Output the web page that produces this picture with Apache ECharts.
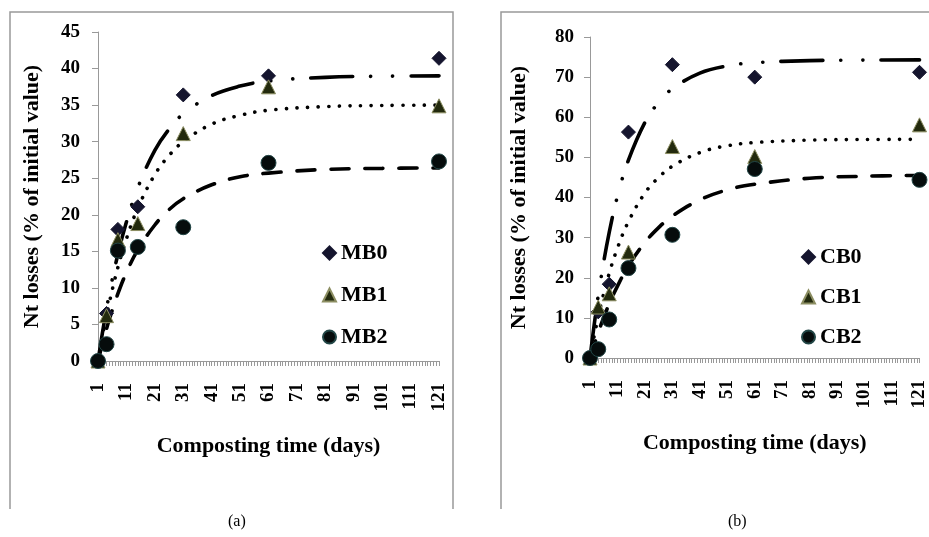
<!DOCTYPE html>
<html>
<head>
<meta charset="utf-8">
<script src="https://cdn.jsdelivr.net/npm/echarts@6/dist/echarts.min.js"></script>
<style>
  html, body { margin: 0; padding: 0; background: #fff; }
  #chart { width: 929px; height: 537px; }
</style>
</head>
<body>
<div id="chart"></div>
<script>
// sampling days (x positions on the 1..121 axis)
var days = [1, 4, 8, 15, 31, 61, 121];

// panel (a)
var mb0 = [0, 6.5, 18.0, 21.1, 36.4, 39.0, 41.4];
var mb1 = [0, 6.2, 16.6, 18.8, 31.1, 37.5, 34.9];
var mb2 = [0, 2.3, 15.1, 15.6, 18.3, 27.1, 27.3];

// panel (b)
var cb0 = [0, 11.5, 18.4, 56.3, 73.1, 70.0, 71.2];
var cb1 = [0, 12.7, 16.0, 26.4, 52.7, 50.2, 58.1];
var cb2 = [0, 2.2, 9.6, 22.4, 30.7, 47.1, 44.4];

// trend curves
var fitDays = [1, 3, 5, 8, 11, 15, 21, 26, 31, 41, 51, 61, 81, 101, 121];
var mb0Fit = [0, 4.9, 9.2, 14.6, 19.0, 23.7, 28.8, 31.7, 33.8, 36.3, 37.6, 38.3, 38.8, 38.95, 39.0];
var mb1Fit = [0, 4.3, 8.0, 12.8, 16.7, 20.9, 25.5, 28.1, 30.0, 32.4, 33.6, 34.3, 34.8, 34.95, 35.0];
var mb2Fit = [0, 3.0, 5.7, 9.2, 12.1, 15.2, 18.6, 20.7, 22.2, 24.1, 25.2, 25.7, 26.2, 26.35, 26.4];
var cb0Fit = [0, 10.7, 19.9, 31.3, 40.3, 49.3, 58.7, 63.7, 67.1, 71.0, 72.8, 73.6, 74.1, 74.25, 74.3];
var cb1Fit = [0, 7.1, 13.3, 21.1, 27.4, 34.0, 41.1, 45.0, 47.8, 51.2, 52.9, 53.7, 54.3, 54.45, 54.5];
var cb2Fit = [0, 4.3, 8.3, 13.5, 17.9, 23.0, 28.8, 32.5, 35.4, 39.4, 41.9, 43.3, 44.8, 45.3, 45.5];

var xTitle = 'Composting time (days)';
var yTitle = 'Nt losses (% of initial value)';

var font = 'Liberation Serif';
var pair = function (xs, ys) { return xs.map(function (x, i) { return [x, ys[i]]; }); };

var dashDotDot = [42, 18, 0.1, 22, 0.1, 18];
var dotted = [0.1, 10.5];
var dashed = [18, 16];

function xAxis(grid) {
  return {
    type: 'value', gridIndex: grid, min: 1, max: 121, interval: 10,
    name: xTitle, nameLocation: 'middle', nameGap: 74,
    nameTextStyle: { fontFamily: font, fontWeight: 'bold', fontSize: 22, color: '#000' },
    axisLine: { lineStyle: { color: '#999', width: 1 } },
    axisTick: { show: true, length: 5, lineStyle: { color: '#999' } },
    minorTick: { show: true, splitNumber: 10, length: 5, lineStyle: { color: '#999' } },
    splitLine: { show: false },
    axisLabel: { rotate: 90, margin: 22, fontFamily: font, fontWeight: 'bold', fontSize: 19, color: '#000' }
  };
}
function yAxis(grid, max, step, margin, gap) {
  return {
    type: 'value', gridIndex: grid, min: 0, max: max, interval: step,
    name: yTitle, nameLocation: 'middle', nameGap: gap,
    nameTextStyle: { fontFamily: font, fontWeight: 'bold', fontSize: 22, color: '#000' },
    axisLine: { show: true, lineStyle: { color: '#999', width: 1 } },
    axisTick: { show: true, length: 6, lineStyle: { color: '#999' } },
    splitLine: { show: false },
    axisLabel: { margin: margin, fontFamily: font, fontWeight: 'bold', fontSize: 19, color: '#000' }
  };
}
function fit(name, grid, data, type) {
  return {
    name: name, type: 'line', xAxisIndex: grid, yAxisIndex: grid, data: data,
    smooth: 0.4, showSymbol: false, silent: true, z: 2,
    lineStyle: { color: '#000', width: 3.6, type: type, cap: 'round' }
  };
}
function pts(name, grid, data, symbol, size, fill, border) {
  return {
    name: name, type: 'scatter', xAxisIndex: grid, yAxisIndex: grid, data: data,
    symbol: symbol, symbolSize: size, z: 3,
    itemStyle: { color: fill, borderColor: border, borderWidth: 1, opacity: 1 }
  };
}
function legend(names, left, top, gap) {
  return {
    data: names, orient: 'vertical', left: left, top: top, itemGap: gap,
    itemWidth: 13, itemHeight: 13, itemTextGap: 3,
    textStyle: { fontFamily: font, fontWeight: 'bold', fontSize: 22, color: '#000', lineHeight: 24 }
  };
}

var dom = document.getElementById('chart');
var myChart = echarts.init(dom, null, { renderer: 'canvas' });

var option = {
  animation: false,
  backgroundColor: '#fff',
  grid: [
    { left: 98, top: 32, width: 341, height: 329 },
    { left: 590, top: 37, width: 335, height: 321 }
  ],
  xAxis: [xAxis(0), xAxis(1)],
  yAxis: [yAxis(0, 45, 5, 18, 55), yAxis(1, 80, 10, 16, 60)],
  legend: [
    legend(['MB0', 'MB1', 'MB2'], 317, 236, 18),
    legend(['CB0', 'CB1', 'CB2'], 796, 240, 16)
  ],
  graphic: [
    { type: 'polyline', shape: { points: [[10, 509], [10, 12], [453, 12], [453, 509]] },
      style: { fill: null, stroke: '#999', lineWidth: 1.5 } },
    { type: 'polyline', shape: { points: [[501, 509], [501, 12], [940, 12]] },
      style: { fill: null, stroke: '#999', lineWidth: 1.5 } },
    { type: 'text', left: 228, top: 514, style: { text: '(a)', font: '16px "Liberation Serif"', fill: '#000' } },
    { type: 'text', left: 728, top: 514, style: { text: '(b)', font: '16px "Liberation Serif"', fill: '#000' } }
  ],
  series: [
    fit('MB0 fit', 0, pair(fitDays, mb0Fit), dashDotDot),
    fit('MB1 fit', 0, pair(fitDays, mb1Fit), dotted),
    fit('MB2 fit', 0, pair(fitDays, mb2Fit), dashed),
    fit('CB0 fit', 1, pair(fitDays, cb0Fit), dashDotDot),
    fit('CB1 fit', 1, pair(fitDays, cb1Fit), dotted),
    fit('CB2 fit', 1, pair(fitDays, cb2Fit), dashed),
    pts('MB0', 0, pair(days, mb0), 'diamond', 14, '#15152e', '#15152e'),
    pts('MB1', 0, pair(days, mb1), 'triangle', 14, '#232a0e', '#8c8e62'),
    pts('MB2', 0, pair(days, mb2), 'circle', 15, '#060c0c', '#224646'),
    pts('CB0', 1, pair(days, cb0), 'diamond', 14, '#15152e', '#15152e'),
    pts('CB1', 1, pair(days, cb1), 'triangle', 14, '#232a0e', '#8c8e62'),
    pts('CB2', 1, pair(days, cb2), 'circle', 15, '#060c0c', '#224646')
  ]
};

if (option && typeof option === 'object') {
  myChart.setOption(option);
}
window.addEventListener('resize', myChart.resize);
</script>
</body>
</html>
